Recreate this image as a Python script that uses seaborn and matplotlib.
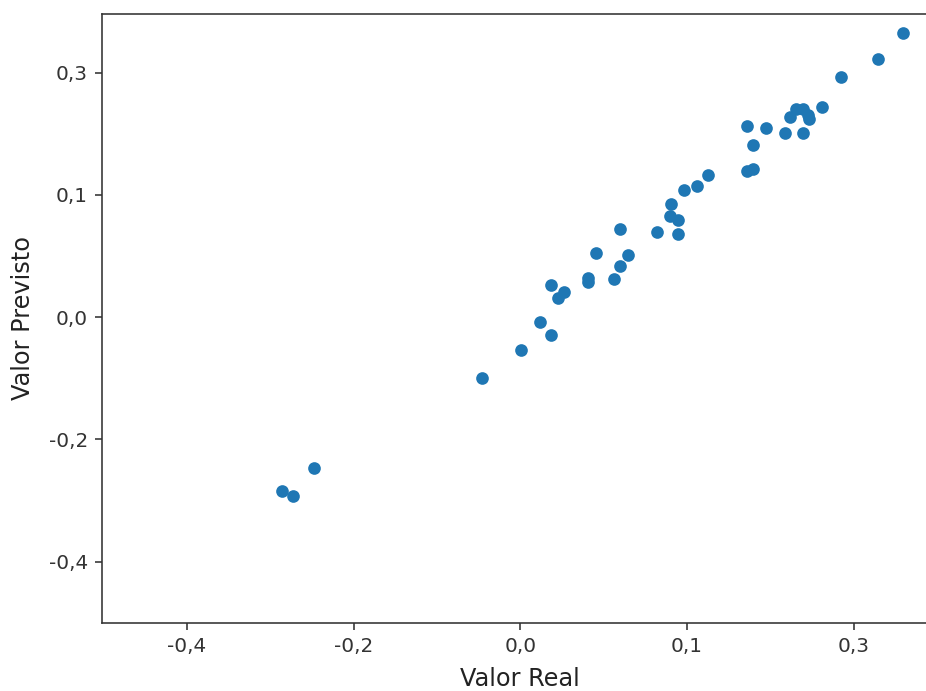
"""
Scatter of real vs predicted values (axes in scaled units, labels in original units).
"""
import matplotlib
matplotlib.use('Agg')
import matplotlib.pyplot as plt
import pandas as pd
import seaborn as sns

# scaled values
valor_real = [
    2.297, 2.148, 1.922, 1.810, 1.654, 1.698, 1.618, 1.726, 1.732, 1.362,
    1.474, 1.588, 1.698, 1.394, 1.358, 1.398, 1.128, 1.058, 0.982, 0.903,
    0.898, 0.948, 0.599, 0.822, 0.945, 0.455, 0.645, 0.599, 0.408, 0.408,
    0.564, 0.183, 0.264, 0.228, 0.115, 0.185, 0.003, -0.231, -1.241, -1.430,
    -1.364,
]
valor_previsto = [
    2.327, 2.115, 1.962, 1.717, 1.703, 1.703, 1.640, 1.654, 1.621, 1.564,
    1.550, 1.504, 1.504, 1.409, 1.198, 1.215, 1.166, 1.076, 1.043, 0.924,
    0.830, 0.795, 0.721, 0.694, 0.678, 0.525, 0.509, 0.416, 0.318, 0.290,
    0.312, 0.266, 0.204, 0.155, -0.039, -0.148, -0.268, -0.497, -1.236, -1.419,
    -1.463,
]

tick_pos = [-2, -1, 0, 1, 2]
tick_labels = ['-0,4', '-0,2', '0,0', '0,1', '0,3']

df = pd.DataFrame({'real': valor_real, 'previsto': valor_previsto})

fig = plt.figure(figsize=(926 / 144, 691 / 144), dpi=144)
ax = fig.add_axes([0.1102, 0.0988, 0.9018, 0.8809])

sns.scatterplot(data=df, x='real', y='previsto', color='#1f77b4',
                linewidth=0, s=40, ax=ax)

ax.set_xlim(-2.51, 2.5)
ax.set_ylim(-2.5, 2.48)
ax.set_xticks(tick_pos)
ax.set_xticklabels(tick_labels, color='#222222')
ax.set_yticks(tick_pos)
ax.set_yticklabels(tick_labels, color='#222222')
for spine in ax.spines.values():
    spine.set_color('#333333')
ax.tick_params(colors='#333333')
ax.set_xlabel('Valor Real', fontsize=12, labelpad=5.5, color='#222222')
ax.set_ylabel('Valor Previsto', fontsize=12, labelpad=7, color='#222222')

fig.savefig('out.png', dpi=144, facecolor='white')
plt.close(fig)
